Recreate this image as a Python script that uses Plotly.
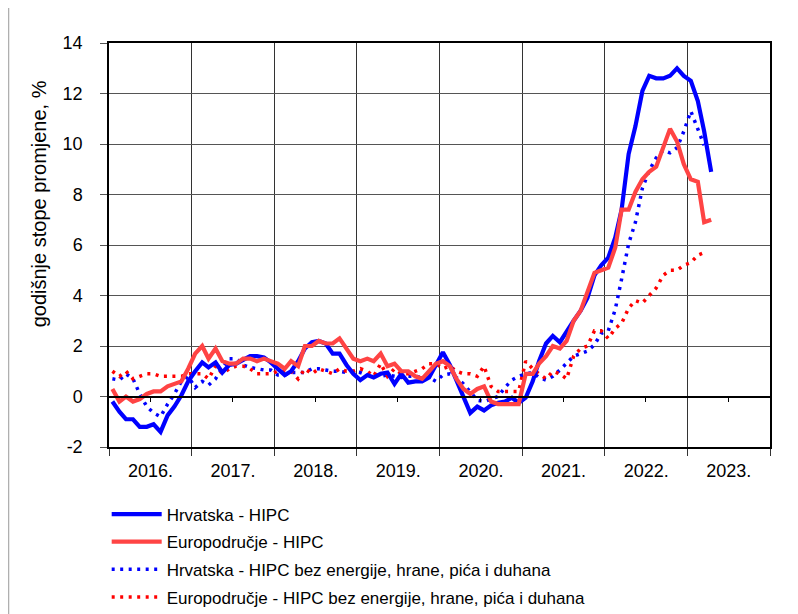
import plotly.graph_objects as go
import pandas as pd

# Monthly dates Jan 2016 - Apr 2023 (plotted mid-month)
months = pd.date_range("2016-01-01", "2023-04-01", freq="MS") + pd.Timedelta(days=15)

hr_hipc = [
    -0.2, -0.6, -0.9, -0.9, -1.2, -1.2, -1.1, -1.4, -0.75, -0.4, 0.05, 0.6,
    1.0, 1.35, 1.15, 1.35, 0.95, 1.25, 1.3, 1.45, 1.6, 1.6, 1.55, 1.35,
    1.1, 0.85, 1.0, 1.4, 1.9, 2.15, 2.2, 2.1, 1.7, 1.7, 1.25, 0.9,
    0.65, 0.85, 0.75, 0.9, 0.95, 0.5, 0.9, 0.55, 0.6, 0.6, 0.75, 1.25,
    1.75, 1.25, 0.65, 0.0, -0.65, -0.4, -0.55, -0.35, -0.25, -0.2, -0.05, -0.25,
    -0.05, 0.6, 1.4, 2.1, 2.4, 2.15, 2.6, 3.0, 3.4, 3.9, 4.8, 5.2,
    5.5, 6.3, 7.4, 9.6, 10.7, 12.1, 12.7, 12.6, 12.6, 12.7, 13.0, 12.7,
    12.5, 11.7, 10.5, 8.9,
]

ea_hipc = [
    0.3, -0.2, 0.0, -0.2, -0.1, 0.1, 0.2, 0.2, 0.4, 0.5, 0.6, 1.1,
    1.7, 2.0, 1.5, 1.9, 1.4, 1.3, 1.3, 1.5, 1.5, 1.4, 1.5, 1.4,
    1.3, 1.1, 1.4, 1.2, 2.0, 2.0, 2.2, 2.1, 2.1, 2.3, 1.9, 1.5,
    1.4, 1.5, 1.4, 1.7, 1.2, 1.3, 1.0, 1.0, 0.8, 0.7, 1.0, 1.3,
    1.4, 1.2, 0.7, 0.3, 0.1, 0.3, 0.4, -0.2, -0.3, -0.3, -0.3, -0.3,
    0.9, 0.9, 1.3, 1.6, 2.0, 1.9, 2.2, 3.0, 3.4, 4.1, 4.9, 5.0,
    5.1, 5.9, 7.4, 7.4, 8.1, 8.6, 8.9, 9.1, 9.9, 10.6, 10.1, 9.2,
    8.6, 8.5, 6.9, 7.0,
]

hr_core = [
    0.7, 0.65, 0.9, 0.7, 0.1, -0.4, -0.65, -0.8, -0.3, 0.1, 0.6, 0.8,
    0.35, 0.6, 0.45, 0.7, 1.15, 1.5, 1.5, 1.25, 1.15, 1.1, 1.05, 1.05,
    0.85, 0.85, 0.95, 0.95, 0.95, 1.1, 1.1, 1.05, 1.0, 1.0, 0.95, 1.0,
    0.95, 0.85, 0.9, 0.8, 0.85, 0.8, 0.75, 0.8, 0.8, 0.75, 0.75, 0.6,
    0.85, 0.9, 0.75, 0.5, 0.2, -0.15, -0.2, -0.1, 0.0, 0.35, 0.65, 0.8,
    0.9, 0.95, 0.75, 0.65, 0.8, 1.05, 1.3, 1.6, 1.7, 1.8, 2.05, 2.5,
    2.6, 3.45, 4.65, 6.05, 6.9, 8.25, 8.95, 9.45, 9.75, 9.65, 9.85, 10.5,
    11.3, 10.6, 9.95, None,
]

ea_core = [
    1.0, 0.8, 1.0, 0.7, 0.8, 0.9, 0.9, 0.8, 0.8, 0.8, 0.8, 0.9,
    0.9, 0.9, 0.7, 1.2, 0.9, 1.1, 1.2, 1.2, 1.1, 0.9, 0.9, 0.9,
    1.0, 1.0, 1.0, 0.7, 1.1, 0.9, 1.1, 1.0, 0.9, 1.1, 1.0, 1.0,
    1.1, 1.0, 0.8, 1.3, 0.8, 1.1, 0.9, 0.9, 1.0, 1.1, 1.3, 1.3,
    1.1, 1.2, 1.0, 0.9, 0.9, 0.8, 1.2, 0.4, 0.2, 0.2, 0.2, 0.2,
    1.4, 1.1, 0.9, 0.7, 1.0, 0.9, 0.7, 1.6, 1.9, 2.0, 2.6, 2.6,
    2.3, 2.7, 2.9, 3.5, 3.8, 3.7, 4.0, 4.3, 4.8, 5.0, 5.0, 5.2,
    5.3, 5.6, 5.7, None,
]

series_names = [
    "Hrvatska - HIPC",
    "Europodručje - HIPC",
    "Hrvatska - HIPC bez energije, hrane, pića i duhana",
    "Europodručje - HIPC bez energije, hrane, pića i duhana",
]
y_ticks = [-2, 0, 2, 4, 6, 8, 10, 12, 14]
y_tick_labels = ["-2", "0", "2", "4", "6", "8", "10", "12", "14"]
mid_years = [f"{y}-07-01" for y in range(2016, 2024)]
x_range = ["2016-01-01", "2024-01-01"]

FONT = "Liberation Sans, Arial, sans-serif"
DOT = "3px,5.5px"

fig = go.Figure()
# dotted series first (drawn below solid ones), legend order set by legendrank
fig.add_trace(go.Scatter(x=months, y=hr_core, name=series_names[2], mode="lines",
                         legendrank=3, legendgroup="g3",
                         line=dict(color="#0000FF", width=3.5, dash=DOT)))
fig.add_trace(go.Scatter(x=months, y=ea_core, name=series_names[3], mode="lines",
                         legendrank=4, legendgroup="g4",
                         line=dict(color="#FF0000", width=3.5, dash=DOT)))
fig.add_trace(go.Scatter(x=months, y=hr_hipc, name=series_names[0], mode="lines",
                         legendrank=1, legendgroup="g1",
                         line=dict(color="#0000FF", width=4.2)))
fig.add_trace(go.Scatter(x=months, y=ea_hipc, name=series_names[1], mode="lines",
                         legendrank=2, legendgroup="g2",
                         line=dict(color="#FF4444", width=4.2)))
# helper trace to carry the zero-line axis with mid-year ticks
fig.add_trace(go.Scatter(x=[x_range[0]], y=[0], xaxis="x2", mode="lines",
                         showlegend=False, hoverinfo="skip", line=dict(width=0)))

fig.update_layout(
    width=790, height=606,
    margin=dict(l=101, r=28, t=35, b=167, autoexpand=False),
    paper_bgcolor="white", plot_bgcolor="white",
    font=dict(family=FONT, size=18, color="black"),
    showlegend=True,
    legend=dict(
        x=-0.0035, y=-0.1226, xanchor="left", yanchor="top",
        traceorder="grouped", tracegroupgap=2.5,
        font=dict(size=17, family=FONT),
        itemwidth=50, bgcolor="rgba(0,0,0,0)",
    ),
    xaxis=dict(
        type="date", range=x_range, dtick="M12", tick0="2016-01-01",
        ticklabelmode="period", tickformat="%Y.",
        showgrid=True, gridcolor="#333", gridwidth=1,
        ticks="outside", ticklen=7, tickcolor="#333",
        showline=True, linecolor="black", linewidth=1.5, mirror=True,
        zeroline=False, tickfont=dict(size=18),
    ),
    xaxis2=dict(
        type="date", range=x_range, overlaying="x", anchor="free", position=0.125,
        tickmode="array", tickvals=mid_years, showticklabels=False,
        ticks="outside", ticklen=5, tickcolor="black",
        showline=True, linecolor="black", linewidth=1.5, showgrid=False,
        zeroline=False,
    ),
    yaxis=dict(
        range=[-2, 14], tickmode="array", tickvals=y_ticks, ticktext=y_tick_labels,
        showgrid=True, gridcolor="#555", gridwidth=1,
        ticks="outside", ticklen=7, tickcolor="#555", ticklabelstandoff=14,
        showline=True, linecolor="black", linewidth=1.5, mirror=True,
        zeroline=False, tickfont=dict(size=18),
    ),
    annotations=[dict(
        text="godišnje stope promjene, %", textangle=-90,
        xref="paper", yref="paper", x=-0.106, y=0.603,
        xanchor="center", yanchor="middle",
        showarrow=False, font=dict(size=20, family=FONT),
    )],
    shapes=[
        dict(type="line", xref="paper", yref="paper", x0=-0.1517, x1=1.05,
             y0=1.0933, y1=1.0933, line=dict(color="#999", width=1)),
        dict(type="line", xref="paper", yref="paper", x0=-0.1517, x1=-0.1517,
             y0=1.0933, y1=-0.5, line=dict(color="#999", width=1)),
    ],
)

fig.write_html("out.html")
